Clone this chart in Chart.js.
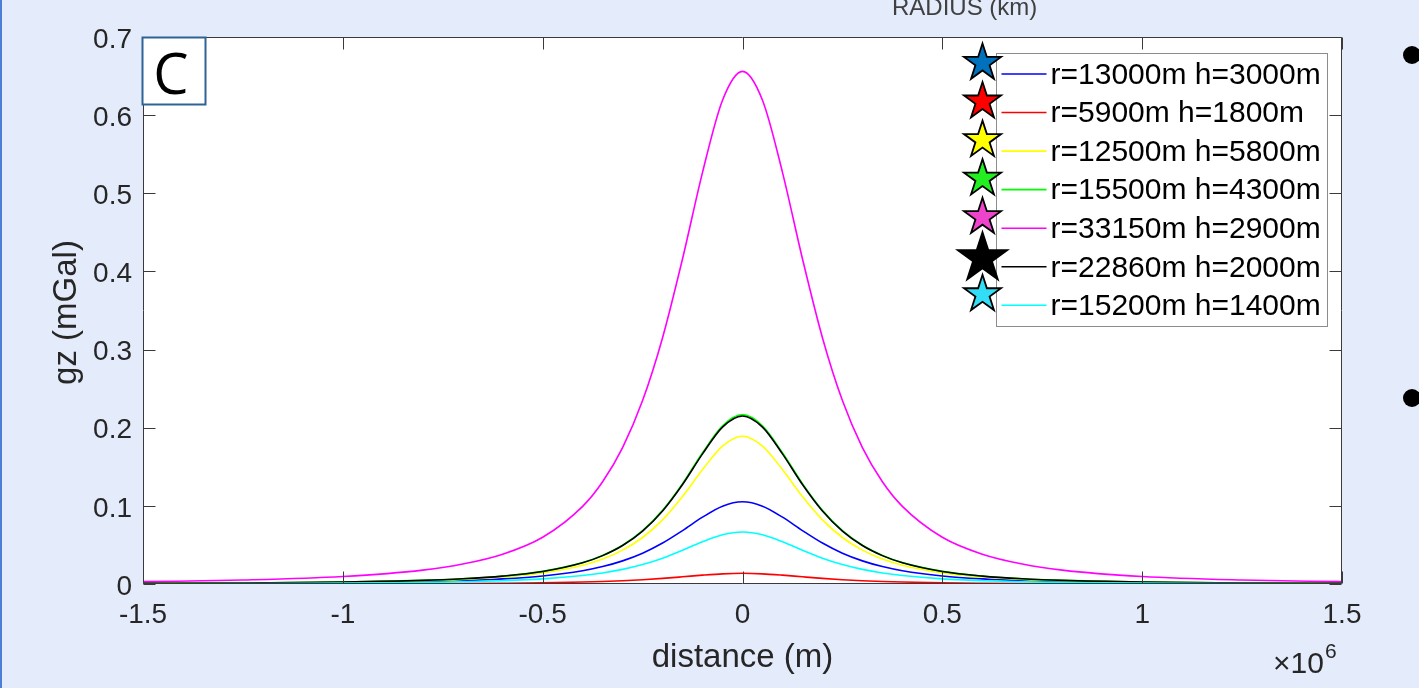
<!DOCTYPE html>
<html><head><meta charset="utf-8">
<script src="https://cdn.jsdelivr.net/npm/chart.js@4/dist/chart.umd.min.js"></script>
<style>
html,body{margin:0;padding:0;background:#E4EBFB;width:1419px;height:688px;overflow:hidden}
#wrap{position:absolute;left:0;top:0;width:1419px;height:688px}
canvas{display:block}
</style></head><body>
<div id="wrap"><canvas id="c" width="1419" height="688"></canvas></div>
<script>
// distance in units of 10^6 m
const distance = [-1.5,-1.25,-1,-0.8,-0.7,-0.6,-0.5,-0.4,-0.35,-0.3,-0.25,-0.2,-0.15,-0.1,-0.05,0,0.05,0.1,0.15,0.2,0.25,0.3,0.35,0.4,0.5,0.6,0.7,0.8,1,1.25,1.5];

const seriesNames = ['r=13000m h=3000m','r=5900m h=1800m','r=12500m h=5800m','r=15500m h=4300m','r=33150m h=2900m','r=22860m h=2000m','r=15200m h=1400m'];

const gzBlue    = [0.0005,0.0009,0.0017,0.0031,0.0044,0.0066,0.0103,0.0170,0.0223,0.0296,0.0394,0.0524,0.0684,0.0855,0.0996,0.1052,0.0996,0.0855,0.0684,0.0524,0.0394,0.0296,0.0223,0.0170,0.0103,0.0066,0.0044,0.0031,0.0017,0.0009,0.0005];
const gzRed     = [0.0001,0.0001,0.0003,0.0005,0.0007,0.0010,0.0015,0.0025,0.0032,0.0042,0.0055,0.0072,0.0092,0.0113,0.0130,0.0137,0.0130,0.0113,0.0092,0.0072,0.0055,0.0042,0.0032,0.0025,0.0015,0.0010,0.0007,0.0005,0.0003,0.0001,0.0001];
const gzYellow  = [0.0007,0.0011,0.0022,0.0041,0.0059,0.0089,0.0141,0.0239,0.0319,0.0433,0.0595,0.0821,0.1119,0.1464,0.1765,0.1890,0.1765,0.1464,0.1119,0.0821,0.0595,0.0433,0.0319,0.0239,0.0141,0.0089,0.0059,0.0041,0.0022,0.0011,0.0007];
const gzGreen   = [0.0008,0.0013,0.0025,0.0047,0.0067,0.0102,0.0162,0.0274,0.0366,0.0496,0.0682,0.0942,0.1284,0.1679,0.2025,0.2168,0.2025,0.1679,0.1284,0.0942,0.0682,0.0496,0.0366,0.0274,0.0162,0.0102,0.0067,0.0047,0.0025,0.0013,0.0008];
const gzMagenta = [0.0030,0.0051,0.0096,0.0178,0.0255,0.0381,0.0598,0.0994,0.1309,0.1746,0.2347,0.3152,0.4162,0.5268,0.6191,0.6560,0.6191,0.5268,0.4162,0.3152,0.2347,0.1746,0.1309,0.0994,0.0598,0.0381,0.0255,0.0178,0.0096,0.0051,0.0030];
const gzBlack   = [0.0008,0.0013,0.0025,0.0046,0.0067,0.0101,0.0160,0.0272,0.0363,0.0492,0.0677,0.0934,0.1273,0.1665,0.2008,0.2150,0.2008,0.1665,0.1273,0.0934,0.0677,0.0492,0.0363,0.0272,0.0160,0.0101,0.0067,0.0046,0.0025,0.0013,0.0008];
const gzCyan    = [0.0003,0.0006,0.0011,0.0020,0.0028,0.0042,0.0065,0.0108,0.0141,0.0187,0.0249,0.0331,0.0432,0.0541,0.0630,0.0665,0.0630,0.0541,0.0432,0.0331,0.0249,0.0187,0.0141,0.0108,0.0065,0.0042,0.0028,0.0020,0.0011,0.0006,0.0003];

const xTicks = [-1.5,-1,-0.5,0,0.5,1,1.5];
const xTickLabels = ['-1.5','-1','-0.5','0','0.5','1','1.5'];
const yTicks = [0,0.1,0.2,0.3,0.4,0.5,0.6,0.7];
const yTickLabels = ['0','0.1','0.2','0.3','0.4','0.5','0.6','0.7'];

const seriesValues = [gzBlue,gzRed,gzYellow,gzGreen,gzMagenta,gzBlack,gzCyan];
const lineColors = ['#0000FF','#FF0000','#FFFF00','#00FF00','#FF00FF','#000000','#00FFFF'];
const starColors = ['#0072BD','#FF0000','#FFFF00','#22EE22','#EE44CC','#000000','#33DDF5'];
const starBig = [false,false,false,false,false,true,false];

const FONT = '"Liberation Sans", Arial, sans-serif';
const AXC = '#262626';

function star(ctx, cx, cy, R, fill){
  const r = R*0.382;
  ctx.beginPath();
  for(let k=0;k<10;k++){
    const a = -Math.PI/2 + k*Math.PI/5;
    const rr = k%2===0 ? R : r;
    const px = cx + rr*Math.cos(a), py = cy + rr*Math.sin(a);
    if(k===0) ctx.moveTo(px,py); else ctx.lineTo(px,py);
  }
  ctx.closePath();
  ctx.fillStyle = fill; ctx.fill();
  ctx.lineWidth = 1.8; ctx.strokeStyle = '#000'; ctx.lineJoin='miter'; ctx.stroke();
}

const decor = {
  id:'decor',
  beforeDraw(chart){
    const ctx = chart.ctx, a = chart.chartArea;
    ctx.save();
    ctx.fillStyle = '#4A7FD4'; ctx.fillRect(0,0,2,688);
    ctx.fillStyle = '#404040'; ctx.font = '24px '+FONT; ctx.textAlign='left'; ctx.textBaseline='alphabetic';
    ctx.fillText('RADIUS (km)', 892, 15);
    ctx.fillStyle = '#000';
    ctx.beginPath(); ctx.arc(1412,55,9,0,Math.PI*2); ctx.fill();
    ctx.beginPath(); ctx.arc(1412,398,9,0,Math.PI*2); ctx.fill();
    ctx.fillStyle = '#FFFFFF'; ctx.fillRect(a.left, a.top, a.right-a.left, a.bottom-a.top);
    ctx.restore();
  },
  afterDatasetsDraw(chart){
    const ctx = chart.ctx, a = chart.chartArea;
    const xs = chart.scales.x, ys = chart.scales.y;
    const L = Math.round(a.left)+0.5, R = Math.round(a.right)-0.5, T = Math.round(a.top)+0.5, B = Math.round(a.bottom)-0.5;
    ctx.save();
    ctx.strokeStyle = '#3a3a3a'; ctx.lineWidth = 1;
    ctx.beginPath(); ctx.rect(L,T,R-L,B-T); ctx.stroke();
    const TL = 12;
    ctx.beginPath();
    xTicks.forEach(v=>{
      const px = Math.round(xs.getPixelForValue(v))+0.5;
      ctx.moveTo(px,B); ctx.lineTo(px,B-TL);
      ctx.moveTo(px,T); ctx.lineTo(px,T+TL);
    });
    yTicks.forEach(v=>{
      const py = Math.round(ys.getPixelForValue(v))+0.5;
      ctx.moveTo(L,py); ctx.lineTo(L+TL,py);
      ctx.moveTo(R,py); ctx.lineTo(R-TL,py);
    });
    ctx.stroke();

    ctx.fillStyle = '#FFFFFF'; ctx.fillRect(142.5,37.5,63,67);
    ctx.strokeStyle = '#2E6395'; ctx.lineWidth = 2; ctx.strokeRect(142.5,37.5,63,67);
    ctx.fillStyle = '#000'; ctx.font = '56px "Open Sans", sans-serif'; ctx.textAlign='center'; ctx.textBaseline='alphabetic';
    ctx.fillText('C', 171, 93.5);

    const bx = R - 345, by = T + 16, bw = 331, bh = 273;
    ctx.fillStyle = '#FFFFFF'; ctx.fillRect(bx,by,bw,bh);
    ctx.strokeStyle = '#8C8C8C'; ctx.lineWidth = 1; ctx.strokeRect(bx,by,bw,bh);
    ctx.font = '30px '+FONT; ctx.textAlign='left'; ctx.textBaseline='middle';
    seriesNames.forEach((name,i)=>{
      const y = by + 20.5 + i*38.55;
      ctx.strokeStyle = lineColors[i]; ctx.lineWidth = 1.6;
      ctx.beginPath(); ctx.moveTo(bx+5,y); ctx.lineTo(bx+50,y); ctx.stroke();
      ctx.fillStyle = '#000'; ctx.fillText(name, bx+54, y+1.5);
    });
    seriesNames.forEach((name,i)=>{
      const y = by + 20.5 + i*38.55;
      const big = starBig[i];
      star(ctx, bx-14, y - (big?8.5:11), big?26:19.5, starColors[i]);
    });
    ctx.restore();
  },
  afterDraw(chart){
    const ctx = chart.ctx, a = chart.chartArea;
    ctx.save();
    ctx.fillStyle = AXC;
    ctx.font = '33px '+FONT; ctx.textAlign='center'; ctx.textBaseline='alphabetic';
    ctx.fillText('distance (m)', (a.left+a.right)/2, 667);
    ctx.save();
    ctx.translate(76, 312.5); ctx.rotate(-Math.PI/2);
    ctx.fillText('gz (mGal)', 0, 0);
    ctx.restore();
    ctx.textAlign='left';
    ctx.font = '30px '+FONT;
    ctx.fillText('\u00D710', 1273, 673);
    const w = ctx.measureText('\u00D710').width;
    ctx.font = '21px '+FONT;
    ctx.fillText('6', 1273+w+1, 658);
    ctx.restore();
  }
};

const datasets = seriesValues.map((vals,i)=>({
  label: seriesNames[i],
  data: distance.map((d,k)=>({x:d, y:vals[k]})),
  borderColor: lineColors[i],
  backgroundColor: lineColors[i],
  borderWidth: 1.6,
  pointRadius: 0,
  fill: false,
  cubicInterpolationMode: 'monotone',
  order: seriesValues.length - i
}));

new Chart(document.getElementById('c'), {
  type: 'line',
  data: { datasets },
  options: {
    responsive: false,
    animation: false,
    devicePixelRatio: 1,
    layout: { padding: { top: 37, right: 77, left: 0, bottom: 0 } },
    plugins: { legend: { display: false }, tooltip: { enabled: false } },
    scales: {
      x: {
        type: 'linear', min: -1.5, max: 1.5,
        afterBuildTicks: s => { s.ticks = xTicks.map(v=>({value:v})); },
        afterFit: s => { s.height = 104; },
        grid: { display: false, drawTicks: false },
        border: { display: false },
        ticks: { callback: (v,i) => xTickLabels[i], font: { family: FONT, size: 28 }, color: AXC, padding: 14, maxRotation: 0, autoSkip: false }
      },
      y: {
        type: 'linear', min: 0, max: 0.7,
        afterBuildTicks: s => { s.ticks = yTicks.map(v=>({value:v})); },
        afterFit: s => { s.width = 143; },
        grid: { display: false, drawTicks: false },
        border: { display: false },
        ticks: { callback: (v,i) => yTickLabels[i], font: { family: FONT, size: 28 }, color: AXC, padding: 11, labelOffset: 3, autoSkip: false }
      }
    }
  },
  plugins: [decor]
});
</script>
</body></html>
